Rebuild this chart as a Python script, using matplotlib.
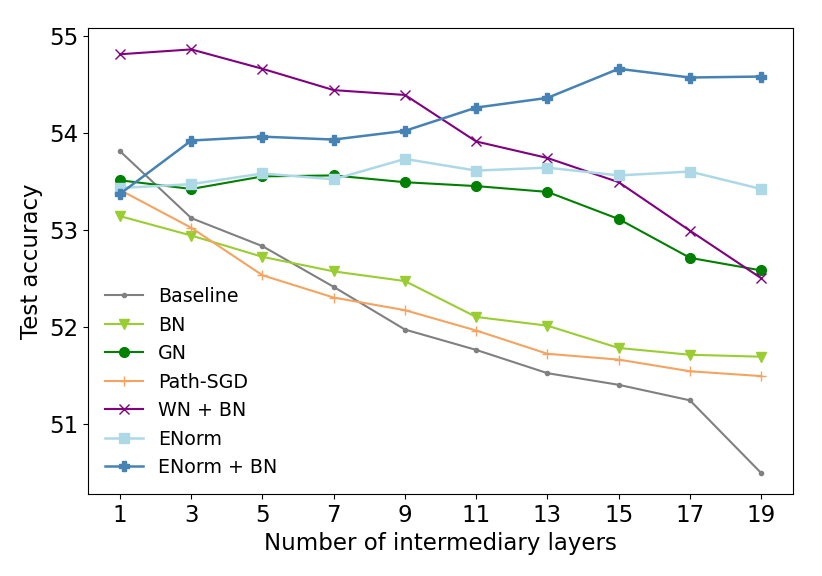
import numpy as np
import matplotlib.pyplot as plt

# jumlah layer perantara
layers = [1, 3, 5, 7, 9, 11, 13, 15, 17, 19]

baseline = [53.81, 53.12, 52.83, 52.41, 51.97, 51.76, 51.52, 51.40, 51.24, 50.49]
bn = [53.14, 52.94, 52.72, 52.57, 52.47, 52.10, 52.01, 51.78, 51.71, 51.69]
gn = [53.51, 53.42, 53.55, 53.56, 53.49, 53.45, 53.39, 53.11, 52.71, 52.58]
path_sgd = [53.41, 53.02, 52.53, 52.30, 52.17, 51.96, 51.72, 51.66, 51.54, 51.49]
wn_bn = [54.81, 54.86, 54.66, 54.44, 54.39, 53.91, 53.74, 53.49, 52.99, 52.50]
enorm = [53.43, 53.47, 53.58, 53.52, 53.73, 53.61, 53.64, 53.56, 53.60, 53.42]
enorm_bn = [53.37, 53.92, 53.96, 53.93, 54.02, 54.26, 54.36, 54.66, 54.57, 54.58]

fig = plt.figure(figsize=(8.22, 5.76), dpi=100)
ax = fig.add_axes([0.107, 0.142, 0.858, 0.809])

ax.plot(layers, baseline, color='gray', marker='o', markersize=3, linewidth=1.5, label="Baseline")
ax.plot(layers, bn, color='yellowgreen', marker='v', markersize=7, linewidth=1.5, label="BN")
ax.plot(layers, gn, color='green', marker='o', markersize=7, linewidth=1.5, label="GN")
ax.plot(layers, path_sgd, color='sandybrown', marker='+', markersize=7, linewidth=1.5, label="Path-SGD")
ax.plot(layers, wn_bn, color='purple', marker='x', markersize=7, linewidth=1.5, label="WN + BN")
ax.plot(layers, enorm, color='lightblue', marker='s', markersize=7, linewidth=1.8, label="ENorm")
ax.plot(layers, enorm_bn, color='steelblue', marker='P', markersize=7, linewidth=1.8, label="ENorm + BN")

ax.set_xticks(layers)
ax.set_yticks([51, 52, 53, 54, 55])
ax.tick_params(labelsize=16.5)
ax.set_xlabel("Number of intermediary layers", fontsize=16.5)
ax.set_ylabel("Test accuracy", fontsize=16.5)
ax.legend(loc='lower left', frameon=False, fontsize=13.7)

plt.savefig("out.png", dpi=100)
